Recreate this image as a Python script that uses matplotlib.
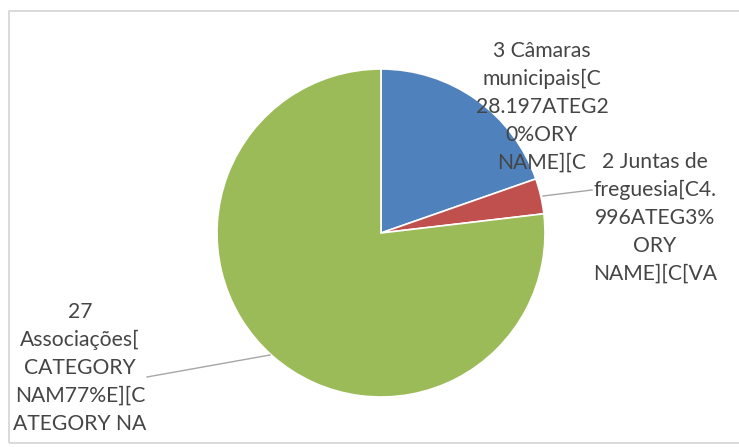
import matplotlib.pyplot as plt
from matplotlib.patches import Rectangle

# slice values (the numbers shown inside the labels) and colours
categorias = ["Câmaras municipais", "Juntas de freguesia", "Associações"]
valores = [28.197, 4.996, 110.3]
cores = ["#4F81BD", "#C0504D", "#9BBB59"]

# the data labels as they came out of the spreadsheet
rotulos = [
    "3 Câmaras\nmunicipais[C\n28.197ATEG2\n0%ORY\nNAME][C",
    "2 Juntas de\nfreguesia[C4.\n996ATEG3%\nORY\nNAME][C[VA",
    "27\nAssociações[\nCATEGORY\nNAM77%E][C\nATEGORY NA",
]

W, H = 739, 447
fig = plt.figure(figsize=(W / 100, H / 100), dpi=100)
fig.patch.set_facecolor("white")

# chart area frame
fig.patches.append(Rectangle((9 / W, (H - 443) / H), 1.0, (443 - 11) / H,
                             transform=fig.transFigure, fill=False,
                             edgecolor="#d4d4d4", linewidth=1.2))

cx, cy, r = 381, 233, 164
ax = fig.add_axes([(cx - r) / W, (H - cy - r) / H, 2 * r / W, 2 * r / H])
ax.axis("off")

ax.pie(valores, colors=cores, startangle=90, counterclock=False, radius=1,
       wedgeprops=dict(edgecolor="white", linewidth=1.2))
ax.set_xlim(-1, 1)
ax.set_ylim(-1, 1)


def px(x, y):
    # pixel position on the figure -> pie data coordinates
    return (x - cx) / r, (cy - y) / r


fonte = dict(family=["Lato", "DejaVu Sans"], fontsize=15.2, color="#454545",
             ha="center", va="center", linespacing=1.5)

pos_rotulos = [(542, 107), (655, 218), (80, 368)]
for txt, (x, y) in zip(rotulos, pos_rotulos):
    ax.text(*px(x, y), txt, **fonte)

# leader lines
linhas = [((543, 196), (592, 190)), ((270, 355), (147, 377))]
for (x0, y0), (x1, y1) in linhas:
    a, b = px(x0, y0)
    c, d = px(x1, y1)
    ax.plot([a, c], [b, d], color="#a6a6a6", linewidth=1, clip_on=False)

fig.savefig("out.png", dpi=100, facecolor="white")
